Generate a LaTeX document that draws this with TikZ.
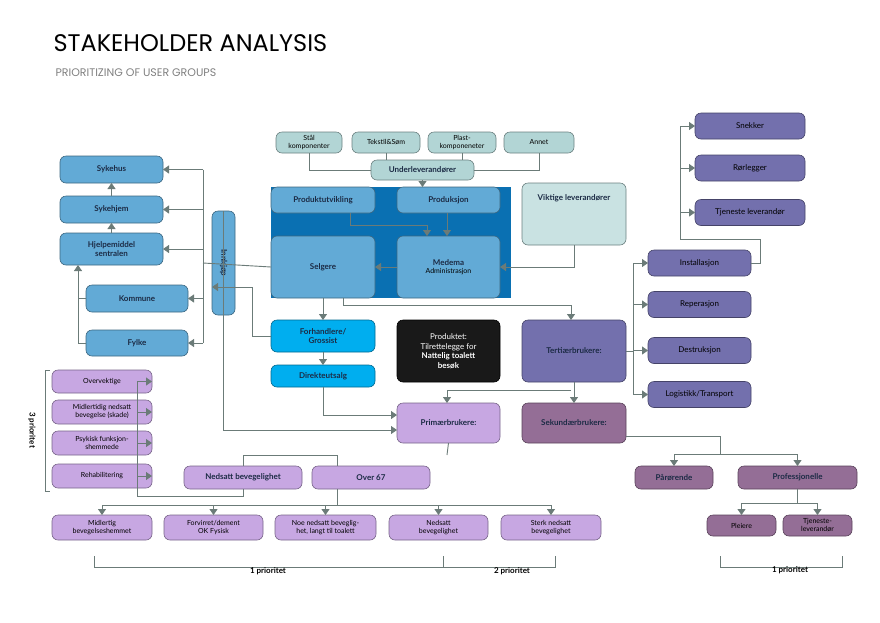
\documentclass[tikz,border=0pt]{standalone}
\usepackage{fontspec}
\setmainfont{Lato}
\newfontfamily\titlefont{Poppins}
\usetikzlibrary{arrows.meta}

\definecolor{teal1}{HTML}{B2D5D5}
\definecolor{blue1}{HTML}{62AAD6}
\definecolor{blue2}{HTML}{0A70B2}
\definecolor{cyan1}{HTML}{00AEEF}
\definecolor{purp1}{HTML}{7370AD}
\definecolor{purp2}{HTML}{946E96}
\definecolor{lav1}{HTML}{C7A7E2}
\definecolor{line1}{HTML}{6B7B78}
\definecolor{ink}{HTML}{1C2B45}

\begin{document}
\begin{tikzpicture}[x=1pt,y=-1pt]

 \tikzset{
    box/.style={
      rectangle, rounded corners=6pt, draw=#1!60!black, line width=0.6pt,
      inner sep=1pt, outer sep=0pt, align=center, font=\fontsize{7}{8}\selectfont
    },
    box/.default=black,
    bold/.style={font=\fontsize{8}{9.5}\selectfont\bfseries, text=ink},
    con/.style={draw=line1, line width=0.9pt},
    arr/.style={con, -{Triangle[width=8pt,length=6pt]}}
  }

\useasboundingbox (0,0) rectangle (880,622);

% title
\node[anchor=west, font=\titlefont\fontsize{24}{26}\selectfont] (title) at (50,43) {STAKEHOLDER ANALYSIS};
\node[anchor=west, font=\titlefont\fontsize{11}{13}\selectfont, text=gray] (sub) at (52,73) {PRIORITIZING OF USER GROUPS};

% suppliers
\node[box=teal1, fill=teal1, minimum width=66, minimum height=21] (staal) at (309,142.5) {Stål\\komponenter};
\node[box=teal1, fill=teal1, minimum width=68, minimum height=21] (tekstil) at (386,142.5) {Tekstil\&Søm};
\node[box=teal1, fill=teal1, minimum width=68, minimum height=21] (plast) at (462,142.5) {Plast-\\komponeneter};
\node[box=teal1, fill=teal1, minimum width=70, minimum height=21] (annet) at (539,142.5) {Annet};
\node[box=teal1, fill=teal1, bold, minimum width=103, minimum height=20] (under) at (422.5,170) {Underleverandører};

% company
\fill[blue2] (271,187) rectangle (511,298);
\node[box=blue1, fill=blue1, bold, minimum width=104, minimum height=26] (utv) at (323,200) {Produktutvikling};
\node[box=blue1, fill=blue1, bold, minimum width=103, minimum height=26] (prod) at (448.5,200) {Produksjon};
\node[box=blue1, fill=blue1, bold, minimum width=104, minimum height=62] (selg) at (323,267) {Selgere};
\node[box=blue1, fill=blue1, minimum width=103, minimum height=62] (medema) at (448.5,267) {{\bfseries\fontsize{8}{9.5}\selectfont\color{ink}Medema}\\Administrasjon};
\node[box=teal1, fill=teal1!70!white, bold, minimum width=104, minimum height=62] (viktig) at (574,214) {Viktige leverandører\\[24pt]};

% buyers
\node[box=blue1, fill=blue1, bold, minimum width=104, minimum height=23, rotate=-90] (innkjop) at (223.5,263) {Innkjøp};
\node[box=blue1, fill=blue1, bold, minimum width=103, minimum height=27] (sykehus) at (111.5,169.5) {Sykehus};
\node[box=blue1, fill=blue1, bold, minimum width=103, minimum height=27] (sykehjem) at (111.5,209.5) {Sykehjem};
\node[box=blue1, fill=blue1, bold, minimum width=103, minimum height=32] (hjelp) at (111.5,249) {Hjelpemiddel\\sentralen};
\node[box=blue1, fill=blue1, bold, minimum width=102, minimum height=27] (kommune) at (137,298.5) {Kommune};
\node[box=blue1, fill=blue1, bold, minimum width=102, minimum height=26] (fylke) at (137,343) {Fylke};

\node[box=cyan1, fill=cyan1, bold, minimum width=104, minimum height=32] (forh) at (323,336) {Forhandlere/\\Grossist};
\node[box=cyan1, fill=cyan1, bold, minimum width=104, minimum height=22] (direkte) at (323,376) {Direkteutsalg};

\node[box, fill=black!90, text=white, minimum width=103, minimum height=62, font=\fontsize{8}{9.5}\selectfont] (produkt) at (448.5,351) {Produktet:\\Tilrettelegge for\\{\bfseries Nattelig toalett}\\{\bfseries besøk}};

% users
\node[box=purp1, fill=purp1, bold, minimum width=104, minimum height=62] (tert) at (574,351) {Tertiærbrukere:};
\node[box=purp2, fill=purp2, bold, minimum width=104, minimum height=40] (sek) at (574,423) {Sekundærbrukere:};
\node[box=lav1, fill=lav1, bold, minimum width=103, minimum height=40] (prim) at (448.5,423) {Primærbrukere:};

\foreach \n/\t/\y in {snekker/Snekker/126, ror/Rørlegger/168, tjen/Tjeneste leverandør/212.5}
  \node[box=purp1, fill=purp1, minimum width=110, minimum height=26, font=\fontsize{8}{9.5}\selectfont] (\n) at (750,\y) {\t};
\foreach \n/\t/\y in {inst/Installasjon/263, rep/Reperasjon/304.5, destr/Destruksjon/350.5, logi/Logistikk\slash Transport/394.5}
  \node[box=purp1, fill=purp1, minimum width=103, minimum height=26, font=\fontsize{8}{9.5}\selectfont] (\n) at (699.5,\y) {\t};

\node[box=lav1, fill=lav1, minimum width=100, minimum height=23] (overv) at (102,381.5) {Overvektige};
\node[box=lav1, fill=lav1, minimum width=100, minimum height=24] (midl) at (102,412) {Midlertidig nedsatt\\bevegelse (skade)};
\node[box=lav1, fill=lav1, minimum width=100, minimum height=24] (psyk) at (102,443) {Psykisk funksjon-\\shemmede};
\node[box=lav1, fill=lav1, minimum width=100, minimum height=24] (rehab) at (102,476) {Rehabilitering};

\node[box=lav1, fill=lav1, bold, minimum width=118, minimum height=23] (nedsatt) at (243,477.5) {Nedsatt bevegelighet};
\node[box=lav1, fill=lav1, bold, minimum width=118, minimum height=23] (over) at (371,477.5) {Over 67};

\node[box=lav1, fill=lav1, minimum width=100, minimum height=25] (b1) at (102,527.5) {Midlertig\\bevegelseshemmet};
\node[box=lav1, fill=lav1, minimum width=99, minimum height=25] (b2) at (213.5,527.5) {Forvirret/dement\\OK Fysisk};
\node[box=lav1, fill=lav1, minimum width=101, minimum height=25] (b3) at (325.5,527.5) {Noe nedsatt beveglig-\\het, langt til toalett};
\node[box=lav1, fill=lav1, minimum width=99, minimum height=25] (b4) at (438.5,527.5) {Nedsatt\\bevegelighet};
\node[box=lav1, fill=lav1, minimum width=100, minimum height=25] (b5) at (551,527.5) {Sterk nedsatt\\bevegelighet};

\node[box=purp2, fill=purp2, bold, minimum width=78, minimum height=23] (paar) at (674,477.5) {Pårørende};
\node[box=purp2, fill=purp2, bold, minimum width=119, minimum height=23] (prof) at (797.5,477.5) {Professjonelle};
\node[box=purp2, fill=purp2, minimum width=69, minimum height=21] (pleie) at (741.5,525.5) {Pleiere};
\node[box=purp2, fill=purp2, minimum width=69, minimum height=21] (tjlev) at (817.5,525.5) {Tjeneste-\\leverandør};

% supplier lines
\draw[con] (staal.south) |- (under.west);
\draw[con] (tekstil.south) -- (tekstil.south |- under.north);
\draw[con] (plast.south) -- (plast.south |- under.north);
\draw[con] (annet.south) |- (under.east);
\draw[arr] (under) -- (under |- prod.north);
\draw[arr] (utv.south -| 350,0) |- (427,225) -- (427,236);
\draw[arr] (prod.south -| 447,0) -- (447,236);
\draw[arr] (medema) -- (selg);
\draw[arr] (viktig.south) |- (medema.east);

% buyer tree
\coordinate (trunk) at (203,263);
\draw[con] (selg.west) -- (trunk);
\draw[con] (203,169.5) -- (203,343);
\foreach \n in {sykehus, sykehjem, hjelp, kommune, fylke}
  \draw[arr] (trunk |- \n.east) -- (\n.east);
\draw[arr] (sykehjem) -- (sykehus);
\draw[arr] (hjelp) -- (sykehjem);
\draw[con] (fylke.west) -| (78,298.5) -- (kommune.west);
\draw[arr] (78,298.5) -- (78,265);

\draw[arr] (selg) -- (forh);
\draw[arr] (forh) -- (direkte);
\draw[arr] (forh.west) -| (252,287) -- (innkjop.south |- 0,287);
\draw[arr] (343,298) |- (571,305) -- (571,320);
\draw[arr] (innkjop.west) |- (prim.west |- 0,430);
\draw[arr] (direkte.south) |- (prim.west |- 0,415);

% user tree
\draw[arr] (tert) -- (sek);
\draw[arr] (571,390) -| (447,403);
\draw[con] (tert.east) -- (633,351);
\draw[con] (633,263) -- (633,394.5);
\foreach \n in {inst, rep, destr, logi}
  \draw[arr] (633,0 |- \n.west) -- (\n.west);
\draw[con] (inst.east) -| (760,239) -| (680,126);
\foreach \n in {snekker, ror, tjen}
  \draw[arr] (680,0 |- \n.west) -- (\n.west);

\draw[con] (prim.south) -- (447,455);
\draw[con] (243,466) |- (337,455) -- (337,466);
\draw[con] (nedsatt.south) |- (137,496) -- (137,381.5);
\foreach \n in {overv, midl, psyk, rehab}
  \draw[arr] (137,0 |- \n.east) -- (\n.east);
\draw[con] (over.south -| 337,0) -- (337,505);
\draw[con] (102,505) -- (551,505);
\foreach \n in {b1, b2, b3, b4, b5}
  \draw[arr] (\n.north |- 0,505) -- (\n.north);

\draw[con] (sek.east |- 0,436) -| (720,454);
\draw[con] (674,454) -- (797.5,454);
\draw[arr] (674,454) -- (paar.north);
\draw[arr] (797.5,454) -- (prof.north);
\draw[con] (prof.south) -- (797.5,503);
\draw[con] (741.5,503) -- (817.5,503);
\draw[arr] (741.5,503) -- (pleie.north);
\draw[arr] (817.5,503) -- (tjlev.north);

% priority brackets
\draw[con] (50,370) -- (45,370) -- (45,491) -- (50,491);
\node[rotate=-90, font=\fontsize{8}{9.5}\selectfont\bfseries] (p3) at (32,430) {3 prioritet};
\draw[con] (94,556) -- (94,567) -- (555,567) -- (555,556);
\draw[con] (443,556) -- (443,567);
\node[font=\fontsize{8}{9.5}\selectfont\bfseries] (p1) at (268,571) {1 prioritet};
\node[font=\fontsize{8}{9.5}\selectfont\bfseries] (p2) at (512,571) {2 prioritet};
\draw[con] (720,556) -- (720,567) -- (842,567) -- (842,556);
\node[font=\fontsize{8}{9.5}\selectfont\bfseries] (p1c) at (790,570) {1 prioritet};

\end{tikzpicture}
\end{document}
